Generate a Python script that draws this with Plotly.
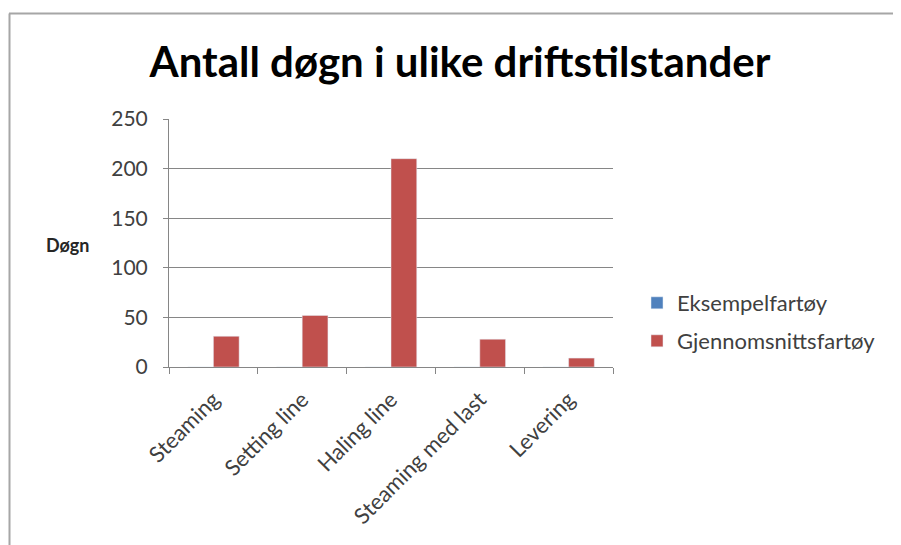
import plotly.graph_objects as go

categories = ["Steaming", "Setting line", "Haling line", "Steaming med last", "Levering"]
eksempel = [0, 0, 0, 0, 0]
gjennomsnitt = [31, 52, 210, 28, 9]
y_ticks = [0, 50, 100, 150, 200, 250]

W, H = 901, 545          # window size
OFF = 8                  # page body margin of the html
FW, FH = W - OFF, H - OFF
L, R, T, B = 169, 613, 119, 367  # plot area in window pixels
pw, ph = R - L, B - T

def px(x):
    return (x - L) / pw

def py(y):
    return (B - y) / ph

font_main = "Lato, 'Open Sans', sans-serif"

fig = go.Figure()
fig.add_trace(go.Bar(x=categories, y=eksempel, name="Eksempelfartøy",
                     marker_color="#4F81BD", legend="legend"))
fig.add_trace(go.Bar(x=categories, y=gjennomsnitt, name="Gjennomsnittsfartøy",
                     marker_color="#C0504D", legend="legend2"))

leg_common = dict(xanchor="left", yanchor="middle",
                  font=dict(size=22, color="#404040", family=font_main),
                  itemwidth=30, bgcolor="rgba(0,0,0,0)")

fig.update_layout(
    width=FW, height=FH,
    margin=dict(l=L - OFF, r=FW - (R - OFF), t=T - OFF, b=FH - (B - OFF), autoexpand=False),
    paper_bgcolor="white", plot_bgcolor="white",
    barmode="group", bargap=0.42, bargroupgap=0,
    font=dict(family=font_main, color="#404040"),
    showlegend=True,
    legend=dict(x=px(637), y=py(303), **leg_common),
    legend2=dict(x=px(637), y=py(341), **leg_common),
    title=dict(text="<b>Antall døgn i ulike driftstilstander</b>",
               x=(460 - OFF) / FW, xanchor="center", y=1 - (62 - OFF) / FH, yanchor="middle",
               font=dict(size=42, color="#000000", family=font_main)),
    xaxis=dict(showline=True, linecolor="#868686", linewidth=1,
               ticks="outside", ticklen=6, tickcolor="#868686",
               tickson="boundaries", tickangle=-45,
               tickfont=dict(size=22, color="#404040"),
               ticklabelstandoff=10,
               showgrid=False, fixedrange=True),
    yaxis=dict(range=[0, 250], tickvals=y_ticks, showline=True,
               linecolor="#868686", linewidth=1,
               ticks="outside", ticklen=5, tickcolor="#868686",
               showgrid=True, gridcolor="#868686", gridwidth=1,
               zeroline=False, tickfont=dict(size=21, color="#404040"),
               ticklabelstandoff=11, fixedrange=True),
    shapes=[
        dict(type="line", xref="paper", yref="paper",
             x0=px(9), x1=px(W + 5), y0=py(13.5), y1=py(13.5),
             line=dict(color="#A6A6A6", width=2)),
        dict(type="line", xref="paper", yref="paper",
             x0=px(9.5), x1=px(9.5), y0=py(13.5), y1=py(H + 5),
             line=dict(color="#A6A6A6", width=2)),
    ],
    annotations=[
        dict(text="<b>Døgn</b>", xref="paper", yref="paper",
             x=px(68), y=py(245), xanchor="center", yanchor="middle",
             showarrow=False, font=dict(size=18, color="#262626", family=font_main)),
    ],
)

fig.write_html("out.html")
